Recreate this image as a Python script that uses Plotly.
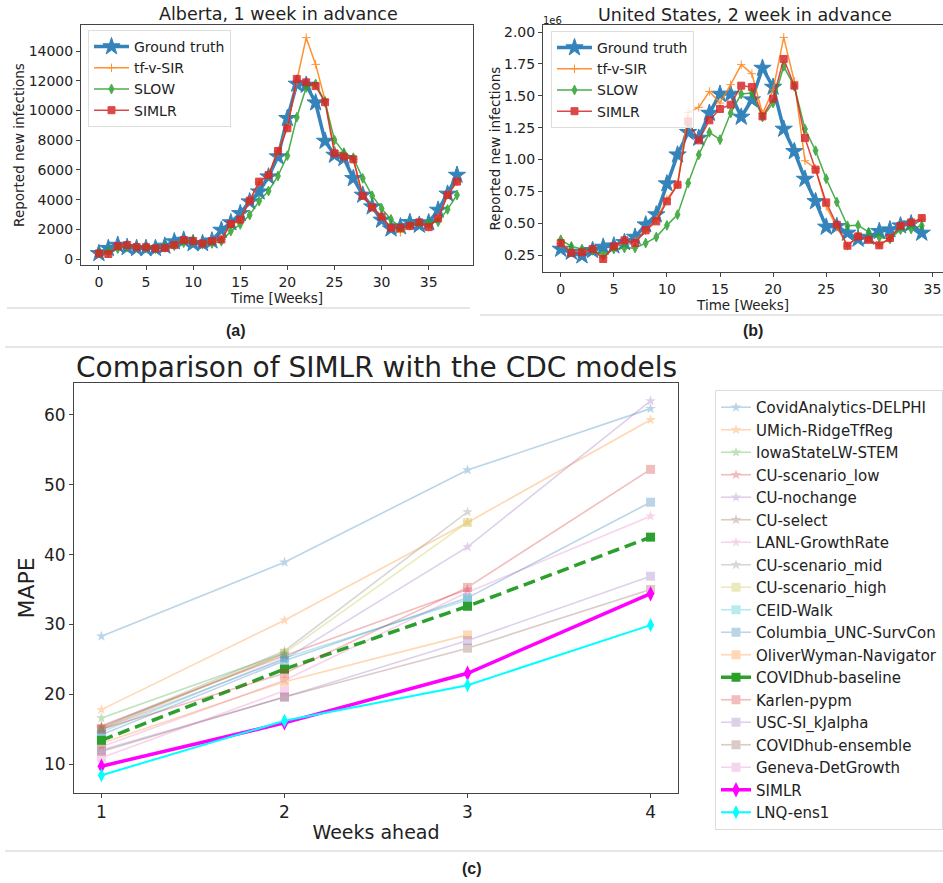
import plotly.graph_objects as go

W, H = 943, 883

# ---------------- Data: Alberta (1 week in advance) ----------------
ab_weeks = list(range(39))
ab_truth = [380, 720, 940, 790, 720, 720, 720, 880, 1170, 1280, 1050, 1050, 1230, 1950, 2450, 3070,
            3860, 4530, 5540, 6890, 9470, 11780, 11710, 10520, 7940, 7000, 6780, 5430, 4310, 3520,
            2630, 2040, 2180, 2470, 2290, 2450, 3300, 4380, 5650]
ab_tfvsir = [380, 360, 880, 920, 810, 800, 720, 740, 950, 1270, 1200, 1050, 1210, 1320, 2360, 2650,
             3930, 5150, 5650, 7250, 8900, 12000, 14900, 13100, 10700, 7300, 6900, 6700, 4250, 3480,
             2850, 2100, 1800, 2220, 2470, 2150, 2740, 4310, 5210]
ab_slow = [400, 550, 700, 850, 800, 780, 700, 800, 900, 1100, 1250, 1000, 1050, 1200, 1880, 2330,
           2960, 3900, 4580, 5590, 6960, 9540, 11550, 11780, 10590, 8010, 7160, 6820, 5430, 4260,
           3410, 2670, 2110, 2300, 2400, 2450, 2510, 3340, 4310]
ab_simlr = [380, 340, 870, 940, 810, 800, 720, 740, 940, 1280, 1210, 1050, 1210, 1320, 2360, 2650,
            3930, 5210, 5650, 7270, 8800, 12120, 11890, 11640, 10550, 7110, 6890, 6710, 4260, 3480,
            2850, 2110, 2110, 2220, 2470, 2150, 2740, 4310, 5210]

# ---------------- Data: United States (2 week in advance), in millions ----------------
us_weeks = list(range(35))
us_truth = [0.297, 0.274, 0.245, 0.287, 0.313, 0.323, 0.349, 0.391, 0.488, 0.567, 0.810, 1.037,
            1.213, 1.168, 1.364, 1.513, 1.513, 1.333, 1.469, 1.717, 1.568, 1.239, 1.063, 0.846,
            0.671, 0.470, 0.475, 0.423, 0.376, 0.391, 0.436, 0.449, 0.480, 0.496, 0.423]
us_tfvsir = [0.340, 0.280, 0.270, 0.290, 0.230, 0.310, 0.350, 0.360, 0.440, 0.530, 0.689, 0.800,
             1.369, 1.409, 1.534, 1.443, 1.587, 1.744, 1.673, 1.360, 1.547, 1.958, 1.613, 0.990,
             0.930, 0.632, 0.470, 0.320, 0.400, 0.370, 0.330, 0.380, 0.480, 0.500, 0.530]
us_slow = [0.370, 0.318, 0.297, 0.287, 0.253, 0.297, 0.305, 0.305, 0.344, 0.391, 0.483, 0.567,
           0.815, 1.037, 1.213, 1.155, 1.364, 1.513, 1.521, 1.333, 1.443, 1.731, 1.574, 1.239,
           1.069, 0.849, 0.666, 0.480, 0.483, 0.430, 0.389, 0.376, 0.449, 0.454, 0.480]
us_simlr = [0.344, 0.266, 0.271, 0.297, 0.219, 0.318, 0.365, 0.344, 0.444, 0.514, 0.671, 0.802,
            1.299, 1.150, 1.307, 1.396, 1.430, 1.579, 1.568, 1.338, 1.477, 1.788, 1.579, 1.168,
            0.920, 0.663, 0.488, 0.323, 0.396, 0.370, 0.326, 0.383, 0.480, 0.506, 0.540]

# ---------------- Data: CDC comparison (MAPE) ----------------
weeks_ahead = [1, 2, 3, 4]
cdc_models = ["CovidAnalytics-DELPHI", "UMich-RidgeTfReg", "IowaStateLW-STEM", "CU-scenario_low",
              "CU-nochange", "CU-select", "LANL-GrowthRate", "CU-scenario_mid", "CU-scenario_high",
              "CEID-Walk", "Columbia_UNC-SurvCon", "OliverWyman-Navigator", "COVIDhub-baseline",
              "Karlen-pypm", "USC-SI_kJalpha", "COVIDhub-ensemble", "Geneva-DetGrowth", "SIMLR",
              "LNQ-ens1"]
mape_delphi = [28.3, 38.9, 52.1, 60.9]
mape_umich = [17.8, 30.6, 44.6, 59.3]
mape_iowa = [16.6, 25.9, None, None]
mape_cu_low = [15.5, 25.5, 35.0, None]
mape_cu_nochange = [15.0, 25.0, 41.1, 62.0]
mape_cu_select = [15.2, 25.8, None, None]
mape_lanl = [12.5, 22.0, 34.6, 45.5]
mape_cu_mid = [15.3, 26.2, 46.1, None]
mape_cu_high = [15.0, 25.9, 44.6, None]
mape_ceid = [14.6, 25.2, 33.5, None]
mape_columbia = [14.2, 24.8, 33.8, 47.5]
mape_oliver = [13.0, 21.8, 28.5, None]
mape_baseline = [13.4, 23.6, 32.6, 42.5]
mape_karlen = [15.0, 23.0, 35.3, 52.2]
mape_usc = [12.0, 19.6, 27.7, 36.9]
mape_ensemble = [11.8, 19.6, 26.6, 35.0]
mape_geneva = [10.9, 20.5, None, None]
mape_simlr = [9.7, 15.9, 23.0, 34.4]
mape_lnq = [8.4, 16.2, 21.3, 29.9]
cdc_values = [mape_delphi, mape_umich, mape_iowa, mape_cu_low, mape_cu_nochange, mape_cu_select,
              mape_lanl, mape_cu_mid, mape_cu_high, mape_ceid, mape_columbia, mape_oliver,
              mape_baseline, mape_karlen, mape_usc, mape_ensemble, mape_geneva, mape_simlr, mape_lnq]

# ---------------- Styles ----------------
FONT = "DejaVu Sans"
TAB = ["#1f77b4", "#ff7f0e", "#2ca02c", "#d62728", "#9467bd", "#8c564b", "#e377c2", "#7f7f7f",
       "#bcbd22", "#17becf"]


def px(x):
    return x / W


def py(y):
    return 1 - y / H


fig = go.Figure()

top_styles = [
    ("Ground truth", TAB[0], "star", 13, 3.5),
    ("tf-v-SIR", TAB[1], "cross-thin-open", 6, 1.5),
    ("SLOW", TAB[2], "diamond-tall", 7, 1.5),
    ("SIMLR", TAB[3], "square", 7, 1.5),
]

# ---- Panel (a) ----
for (name, col, sym, size, lw), vals in zip(top_styles, [ab_truth, ab_tfvsir, ab_slow, ab_simlr]):
    fig.add_trace(go.Scatter(
        x=ab_weeks, y=vals, name=name, mode="lines+markers",
        line=dict(color=col, width=lw),
        marker=dict(symbol=sym, size=size, color=col, line=dict(color=col, width=1)),
        opacity=0.85 if name != "Ground truth" else 0.9,
        xaxis="x", yaxis="y", legend="legend"))

# ---- Panel (b) ----
for (name, col, sym, size, lw), vals in zip(top_styles, [us_truth, us_tfvsir, us_slow, us_simlr]):
    fig.add_trace(go.Scatter(
        x=us_weeks, y=vals, name=name, mode="lines+markers",
        line=dict(color=col, width=lw),
        marker=dict(symbol=sym, size=size, color=col, line=dict(color=col, width=1)),
        opacity=0.85 if name != "Ground truth" else 0.9,
        xaxis="x2", yaxis="y2", legend="legend2"))

# ---- Panel (c) ----
for i, (name, vals) in enumerate(zip(cdc_models, cdc_values)):
    if name == "COVIDhub-baseline":
        line = dict(color=TAB[2], width=3.5, dash="12px,6px")
        marker = dict(symbol="square", size=9, color=TAB[2])
        op = 1.0
    elif name == "SIMLR":
        line = dict(color="#ff00ff", width=3.5)
        marker = dict(symbol="diamond-tall", size=11, color="#ff00ff")
        op = 1.0
    elif name == "LNQ-ens1":
        line = dict(color="#00ffff", width=2)
        marker = dict(symbol="diamond-tall", size=10, color="#00ffff")
        op = 1.0
    else:
        col = TAB[i % 10] if i < 12 else TAB[(i - 10) % 10]
        sym = "star" if i < 8 else "square"
        line = dict(color=col, width=1.6)
        marker = dict(symbol=sym, size=8 if sym == "star" else 9, color=col)
        op = 0.3
    fig.add_trace(go.Scatter(
        x=weeks_ahead, y=vals, name=name, mode="lines+markers", line=line, marker=marker,
        opacity=op, connectgaps=False, xaxis="x3", yaxis="y3", legend="legend3",
        legendgroup=name))

axis_common = dict(showline=True, mirror=True, linecolor="#444", linewidth=1, ticks="outside",
                   ticklen=4, tickcolor="#444", showgrid=False, zeroline=False,
                   tickfont=dict(family=FONT, size=14, color="#222"))
big_ticks = {**axis_common, "tickfont": dict(family=FONT, size=17, color="#222")}

fig.update_layout(
    width=W, height=H, margin=dict(l=0, r=0, t=0, b=0, autoexpand=False),
    paper_bgcolor="white", plot_bgcolor="white",
    font=dict(family=FONT, color="#222"),
    xaxis=dict(domain=[px(81), px(473)], range=[-1.9, 39.7], tickvals=[0, 5, 10, 15, 20, 25, 30, 35],
               anchor="y", title=dict(text="Time [Weeks]", font=dict(size=13.5), standoff=4),
               **axis_common),
    yaxis=dict(domain=[py(265), py(25)], range=[-400, 15750],
               tickvals=[0, 2000, 4000, 6000, 8000, 10000, 12000, 14000], tickformat="d",
               anchor="x", title=dict(text="Reported new infections", font=dict(size=13.5), standoff=0),
               **axis_common),
    xaxis2=dict(domain=[px(543), 1.0], range=[-1.67, 36.0], tickvals=[0, 5, 10, 15, 20, 25, 30, 35],
                anchor="y2", title=dict(text="Time [Weeks]", font=dict(size=13.5), standoff=4),
                **axis_common),
    yaxis2=dict(domain=[py(272), py(25)], range=[0.117, 2.055],
                tickvals=[0.25, 0.5, 0.75, 1.0, 1.25, 1.5, 1.75, 2.0], tickformat=".2f",
                anchor="x2", title=dict(text="Reported new infections", font=dict(size=13.5), standoff=0),
                **axis_common),
    xaxis3=dict(domain=[px(74), px(678)], range=[0.85, 4.15], tickvals=weeks_ahead,
                anchor="y3", title=dict(text="Weeks ahead", font=dict(size=19), standoff=4),
                **big_ticks),
    yaxis3=dict(domain=[py(793), py(383)], range=[5.86, 64.57], tickvals=[10, 20, 30, 40, 50, 60],
                anchor="x3", title=dict(text="MAPE", font=dict(size=22), standoff=3),
                **big_ticks),
    legend=dict(x=px(88), y=py(30), xanchor="left", yanchor="top", bgcolor="rgba(255,255,255,0.8)",
                bordercolor="#ddd", borderwidth=1, font=dict(family=FONT, size=14, color="#222"),
                itemwidth=35, tracegroupgap=0),
    legend2=dict(x=px(551), y=py(31), xanchor="left", yanchor="top", bgcolor="rgba(255,255,255,0.8)",
                 bordercolor="#ddd", borderwidth=1, font=dict(family=FONT, size=14, color="#222"),
                 itemwidth=35, tracegroupgap=0),
    legend3=dict(x=px(715), y=py(390), xanchor="left", yanchor="top", bgcolor="white",
                 bordercolor="#ddd", borderwidth=1, font=dict(family=FONT, size=15, color="#222"),
                 itemwidth=30, tracegroupgap=0, traceorder="normal"),
    showlegend=True,
)

annotations = [
    dict(text="Alberta, 1 week in advance", x=px(278), y=py(14), font=dict(size=17.5)),
    dict(text="United States, 2 week in advance", x=px(745), y=py(15), font=dict(size=17.5)),
    dict(text="1e6", x=px(552), y=py(21), font=dict(size=10)),
    dict(text="<b>(a)</b>", x=px(236), y=py(330), font=dict(family="Liberation Sans", size=16)),
    dict(text="<b>(b)</b>", x=px(753), y=py(330), font=dict(family="Liberation Sans", size=16)),
    dict(text="Comparison of SIMLR with the CDC models", x=px(376), y=py(367), font=dict(size=28)),
    dict(text="<b>(c)</b>", x=px(472), y=py(868), font=dict(family="Liberation Sans", size=16)),
]
for a in annotations:
    a.update(xref="paper", yref="paper", showarrow=False, xanchor="center", yanchor="middle")
    a["font"] = dict(family=a["font"].get("family", FONT), size=a["font"]["size"], color="#222")
fig.update_layout(annotations=annotations)

shapes = [
    dict(type="line", x0=px(7), x1=px(470), y0=py(308), y1=py(308)),
    dict(type="line", x0=px(480), x1=1, y0=py(315), y1=py(315)),
    dict(type="line", x0=px(5), x1=1, y0=py(347), y1=py(347)),
    dict(type="line", x0=px(5), x1=1, y0=py(851), y1=py(851)),
]
for s in shapes:
    s.update(xref="paper", yref="paper", line=dict(color="#cccccc", width=1))
fig.update_layout(shapes=shapes)

# remove the default body margin of the page so the figure sits at the window's top-left corner
fig.write_html("out.html", config={"displayModeBar": False},
               post_script="document.body.style.margin='0';document.body.style.overflow='hidden';")
